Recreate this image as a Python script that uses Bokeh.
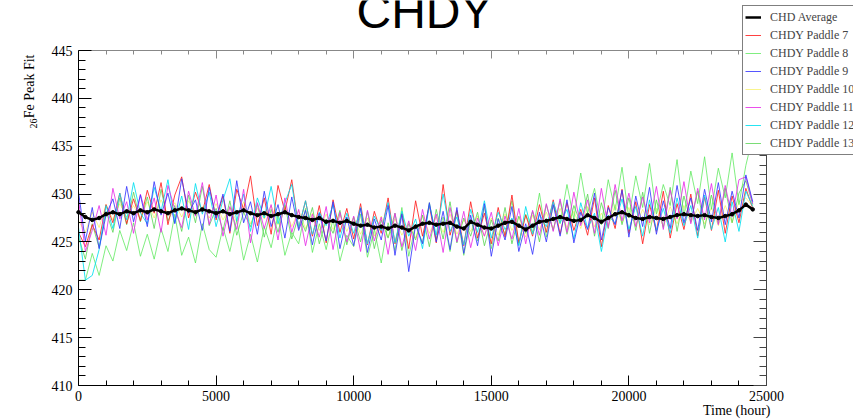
import math
from bokeh.plotting import figure
from bokeh.models import Range1d, FixedTicker, LinearAxis, Label, Legend, LegendItem
from bokeh.embed import file_html
from bokeh.resources import INLINE

# ---------------- data ----------------
hours = list(range(0, 24501, 250))

chd_average = [
    428.1, 427.6, 427.3, 427.5, 427.9, 428.1, 427.9, 428.2, 428.0, 428.3,
    428.1, 428.4, 428.2, 428.0, 428.3, 428.5, 428.3, 428.1, 428.4, 428.2,
    428.0, 428.2, 427.9, 428.1, 428.3, 428.0, 427.8, 428.0, 427.7, 427.9,
    428.1, 427.8, 427.6, 427.5, 427.3, 427.5, 427.1, 427.2, 427.0, 427.2,
    426.9, 426.7, 426.8, 426.5, 426.6, 426.4, 426.7, 426.5, 426.2, 426.6,
    426.9, 427.0, 426.8, 426.9, 427.0, 426.6, 426.4, 427.1, 426.8, 426.5,
    426.4, 426.7, 427.0, 427.1, 426.7, 426.3, 426.7, 427.1, 427.2, 427.4,
    427.6, 427.4, 427.2, 427.3, 427.8, 427.5, 427.1, 427.5, 427.9, 428.1,
    427.8, 427.5, 427.4, 427.6, 427.5, 427.4, 427.6, 427.8, 427.9, 427.8,
    427.7, 427.8, 427.6, 427.5, 427.7, 427.9, 428.3, 428.9, 428.4]

paddle_7 = [
    426.0, 424.5, 426.8, 425.2, 428.9, 427.0, 430.1, 426.9, 429.5, 427.2,
    430.4, 428.0, 431.2, 426.8, 429.9, 431.8, 427.5, 430.2, 428.1, 431.0,
    427.3, 429.8, 425.9, 430.5, 428.4, 431.9, 426.7, 429.6, 425.8, 430.9,
    428.2, 431.5, 426.4, 429.3, 425.6, 428.8, 424.9, 429.4, 426.0, 428.5,
    425.3, 429.0, 424.7, 428.2, 425.9, 429.6, 424.8, 428.0, 424.3, 429.3,
    425.6, 428.8, 424.9, 431.0, 425.7, 428.3, 424.6, 429.2, 425.4, 428.0,
    424.8, 428.6, 425.5, 429.9, 424.9, 427.8, 425.6, 428.9, 426.0, 429.4,
    425.8, 429.1, 426.2, 428.4, 425.7, 429.6, 424.5, 428.8, 426.4, 430.5,
    425.9, 429.2, 424.8, 428.9, 426.1, 430.3, 425.4, 429.0, 426.3, 430.0,
    425.6, 429.7, 426.2, 430.4, 425.9, 429.8, 427.0, 430.6, 428.5]

paddle_8 = [
    421.0, 421.0, 423.8, 421.5, 424.6, 423.0, 426.2, 424.1, 427.0, 423.5,
    425.8, 423.2, 426.4, 424.0, 427.9, 423.6, 425.5, 422.8, 426.9, 424.2,
    423.4, 426.5, 424.0, 427.3, 423.1, 425.8, 422.9, 426.6, 424.4, 427.8,
    423.6, 426.0, 424.8, 428.5, 423.9, 426.9, 424.2, 427.4, 423.0, 425.7,
    424.5, 427.9, 423.4, 426.3, 422.8, 427.0, 424.1, 428.6, 423.5, 426.8,
    424.9, 429.1, 425.3, 427.6, 424.0, 428.2, 423.6, 427.3, 425.1, 428.7,
    424.3, 427.5, 425.8, 429.3, 424.7, 427.9, 426.0, 430.1, 425.5, 428.8,
    426.9, 431.0, 427.4, 432.2, 428.0, 430.6, 426.8, 431.5, 428.3, 432.8,
    427.5, 431.9, 428.6, 433.2, 427.9, 431.0, 428.8, 433.6, 427.7, 432.4,
    429.0, 433.9, 428.4, 432.7, 429.6, 434.3, 428.9, 433.0, 436.0]

paddle_9 = [
    430.2, 425.1, 428.6, 424.3, 427.8, 429.5, 426.4, 430.8, 427.1, 429.9,
    426.6, 431.3, 427.8, 430.1, 426.9, 431.6, 428.0, 429.4, 426.2, 430.7,
    427.5, 430.0, 426.1, 431.4, 427.0, 429.2, 425.8, 430.3, 426.6, 428.9,
    425.4, 429.7, 426.2, 428.3, 424.7, 428.0, 425.1, 429.2, 424.3, 427.6,
    424.6, 428.5, 423.9, 427.4, 425.2, 428.8, 423.6, 427.9, 421.9, 426.8,
    424.8, 429.1, 425.0, 428.2, 424.2, 428.6, 423.8, 427.8, 424.6, 429.0,
    423.5, 427.4, 425.2, 428.7, 424.0, 426.9, 423.7, 428.1, 425.0, 428.9,
    425.6, 429.4, 424.9, 428.1, 426.3, 430.1, 425.2, 428.6, 426.8, 430.4,
    425.5, 429.8, 426.6, 430.7, 425.8, 429.3, 426.4, 430.9, 427.0, 429.6,
    426.2, 430.5, 427.1, 431.2, 426.8, 430.3, 427.5, 432.0, 429.2]

paddle_10 = [
    427.2, 426.0, 428.1, 426.5, 428.9, 427.3, 429.0, 427.6, 428.8, 427.4,
    429.2, 427.5, 429.4, 427.8, 429.1, 427.6, 429.3, 427.9, 428.7, 427.5,
    429.0, 427.3, 428.6, 427.1, 429.2, 426.9, 428.5, 427.4, 428.8, 426.8,
    428.7, 426.6, 428.3, 426.4, 428.0, 426.2, 427.9, 426.3, 427.8, 426.1,
    427.6, 425.8, 427.5, 425.6, 427.7, 425.5, 427.4, 425.7, 427.1, 425.4,
    427.8, 425.9, 427.6, 426.0, 427.9, 425.8, 427.3, 426.1, 427.7, 425.6,
    427.5, 425.7, 427.9, 426.2, 427.6, 425.5, 427.8, 426.3, 428.1, 426.4,
    428.5, 426.5, 428.2, 426.4, 428.7, 426.6, 428.0, 426.7, 428.9, 427.0,
    428.6, 426.7, 428.4, 426.8, 428.5, 426.6, 428.7, 426.9, 428.8, 427.0,
    428.5, 426.9, 428.6, 426.7, 428.8, 427.0, 429.2, 429.6, 428.7]

paddle_11 = [
    429.4, 424.0, 426.2, 428.8, 425.7, 430.6, 427.4, 429.2, 425.9, 430.0,
    427.3, 429.6, 426.0, 430.9, 428.4, 426.5, 430.3, 427.7, 431.2, 426.8,
    429.9, 425.6, 428.7, 426.3, 430.5, 424.9, 429.1, 426.4, 428.9, 425.2,
    429.6, 426.0, 428.4, 424.6, 427.9, 425.5, 428.7, 424.2, 428.1, 425.0,
    427.7, 424.0, 428.3, 425.1, 427.6, 423.7, 428.0, 424.5, 427.2, 424.1,
    428.4, 425.3, 427.9, 423.9, 428.6, 425.0, 428.2, 424.4, 427.5, 425.6,
    428.1, 424.6, 427.7, 425.3, 428.5, 424.8, 428.3, 425.7, 429.0, 426.1,
    429.5, 426.0, 430.2, 426.7, 429.4, 425.9, 430.6, 426.5, 431.0, 427.2,
    430.1, 426.6, 429.7, 427.0, 430.8, 426.3, 430.4, 427.4, 431.3, 426.9,
    430.6, 427.3, 431.1, 426.8, 430.9, 427.6, 431.5, 431.8, 429.0]

paddle_12 = [
    426.5, 421.0, 421.5, 424.2, 428.8, 426.4, 430.1, 427.3, 431.2, 428.0,
    426.9, 430.7, 428.2, 431.5, 427.0, 429.8, 426.3, 431.1, 427.9, 430.2,
    426.6, 429.4, 431.6, 427.2, 430.0, 426.1, 429.6, 427.5, 430.8, 426.9,
    429.1, 431.0, 426.5, 429.3, 425.8, 428.1, 426.7, 428.9, 425.4, 428.0,
    425.9, 428.6, 424.8, 427.7, 426.2, 429.1, 424.9, 428.2, 425.6, 427.4,
    424.3, 428.9, 425.7, 430.0, 426.1, 427.6, 424.7, 428.4, 426.0, 429.3,
    425.4, 428.1, 426.3, 427.5, 424.6, 428.7, 425.8, 427.9, 426.6, 429.2,
    427.0, 428.4, 425.3, 429.1, 426.4, 428.0, 424.0, 427.8, 426.9, 429.5,
    426.3, 428.7, 425.6, 429.4, 426.2, 428.5, 425.9, 429.6, 426.7, 428.8,
    425.4, 429.9, 426.3, 428.6, 425.0, 429.2, 426.1, 430.3, 428.7]

paddle_13 = [
    425.5, 423.2, 426.9, 424.4, 428.2, 426.0, 429.6, 426.8, 430.2, 427.1,
    429.7, 426.4, 430.5, 427.2, 428.8, 426.1, 429.9, 427.0, 430.8, 426.7,
    428.5, 426.2, 429.3, 425.7, 428.1, 426.6, 429.0, 425.5, 428.4, 426.0,
    428.9, 425.3, 427.8, 426.1, 428.6, 424.8, 427.4, 425.9, 428.3, 424.7,
    427.6, 425.0, 428.2, 424.3, 427.3, 425.4, 428.0, 424.1, 426.9, 425.2,
    427.8, 424.5, 428.4, 425.3, 429.2, 424.9, 427.5, 425.6, 428.1, 424.6,
    427.3, 425.1, 428.6, 424.8, 427.7, 425.9, 428.2, 425.0, 428.9, 426.2,
    429.3, 425.8, 428.8, 426.9, 430.0, 425.6, 429.1, 426.4, 430.4, 426.8,
    429.6, 426.2, 430.2, 425.9, 429.4, 426.5, 430.7, 426.1, 429.8, 427.1,
    430.3, 426.4, 429.9, 426.9, 430.6, 427.0, 430.1, 431.4, 428.9]

series_labels = ["CHD Average", "CHDY Paddle 7", "CHDY Paddle 8", "CHDY Paddle 9",
                 "CHDY Paddle 10", "CHDY Paddle 11", "CHDY Paddle 12", "CHDY Paddle 13"]

x_major_ticks = [0, 5000, 10000, 15000, 20000, 25000]
x_minor_ticks = [1000, 2000, 3000, 4000, 6000, 7000, 8000, 9000, 11000, 12000, 13000,
                 14000, 16000, 17000, 18000, 19000, 21000, 22000, 23000, 24000]
y_major_ticks = [410, 415, 420, 425, 430, 435, 440, 445]
y_minor_ticks = [411, 412, 413, 414, 416, 417, 418, 419, 421, 422, 423, 424,
                 426, 427, 428, 429, 431, 432, 433, 434, 436, 437, 438, 439,
                 441, 442, 443, 444]

# ---------------- layout (pixels of the plot box in the 853x419 canvas) ----------------
W, H = 853, 419
X0, X1, Y0, Y1 = 0, 25000, 410, 445
PX_L, PX_R, PY_T, PY_B = 78, 766, 50, 385
xs = (X1 - X0) / (PX_R - PX_L)
ys = (Y1 - Y0) / (PY_B - PY_T)

def dx(px):
    return X0 + (px - PX_L) * xs

def dy(py):
    return Y0 + (PY_B - py) * ys

p = figure(width=W, height=H, output_backend="svg", toolbar_location=None,
           x_range=Range1d(dx(0), dx(W)), y_range=Range1d(dy(H), dy(0)),
           x_axis_location=None, y_axis_location=None, min_border=0)
p.grid.visible = False
p.background_fill_color = "white"
p.border_fill_color = "white"
p.outline_line_color = None

SERIF = "Liberation Serif"

def make_axis(loc, bounds, ticks, minor, tin, minin, labels=True, color="black"):
    ax = LinearAxis(fixed_location=loc, bounds=bounds,
                    ticker=FixedTicker(ticks=ticks, minor_ticks=minor))
    ax.major_tick_in = tin
    ax.major_tick_out = 0
    ax.minor_tick_in = minin
    ax.minor_tick_out = 0
    ax.axis_line_color = color
    ax.major_tick_line_color = color
    ax.minor_tick_line_color = color
    ax.major_label_text_font = SERIF
    ax.major_label_text_font_size = "14px"
    ax.major_label_text_color = "black" if labels else None
    return ax

xb = make_axis(Y0, (X0, X1), x_major_ticks, x_minor_ticks, 10, 5)
xb.major_label_standoff = 5
p.add_layout(xb, "below")
yl = make_axis(X0, (Y0, Y1), y_major_ticks, y_minor_ticks, 13, 7)
yl.major_label_standoff = 6
p.add_layout(yl, "left")
yr = make_axis(X1, (Y0, Y1), y_major_ticks, y_minor_ticks, 13, 7, labels=False, color="#444444")
p.add_layout(yr, "right")
xt = make_axis(Y1, (X0, X1), x_major_ticks, x_minor_ticks, 8, 4, labels=False, color="#888888")
p.add_layout(xt, "above")

# ---------------- lines ----------------
r10 = p.line(hours, paddle_10, line_color="#f2e600", line_width=1, line_alpha=0.45)
r8 = p.line(hours, paddle_8, line_color="#55e855", line_width=1, line_alpha=0.75)
r13 = p.line(hours, paddle_13, line_color="#59d454", line_width=1, line_alpha=0.8)
r7 = p.line(hours, paddle_7, line_color="#ff2020", line_width=1, line_alpha=0.85)
r12 = p.line(hours, paddle_12, line_color="#00dff0", line_width=1, line_alpha=0.85)
r11 = p.line(hours, paddle_11, line_color="#e830e8", line_width=1, line_alpha=0.85)
r9 = p.line(hours, paddle_9, line_color="#3838ff", line_width=1, line_alpha=0.85)
ravg = p.line(hours, chd_average, line_color="black", line_width=2.5)
p.scatter(hours, chd_average, size=3.5, color="black")

legend = Legend(items=[
    LegendItem(label=series_labels[0], renderers=[ravg]),
    LegendItem(label=series_labels[1], renderers=[r7]),
    LegendItem(label=series_labels[2], renderers=[r8]),
    LegendItem(label=series_labels[3], renderers=[r9]),
    LegendItem(label=series_labels[4], renderers=[r10]),
    LegendItem(label=series_labels[5], renderers=[r11]),
    LegendItem(label=series_labels[6], renderers=[r12]),
    LegendItem(label=series_labels[7], renderers=[r13]),
], location=(742, H - 155))
legend.padding = 2
legend.margin = 0
legend.spacing = 0
legend.label_height = 18
legend.glyph_height = 18
legend.glyph_width = 16
legend.label_standoff = 9
legend.label_text_font = SERIF
legend.label_text_font_size = "12px"
legend.border_line_color = "black"
legend.border_line_width = 1
legend.background_fill_color = "white"
legend.background_fill_alpha = 1.0
p.add_layout(legend)

# ---------------- texts ----------------
p.add_layout(Label(x=dx(424), y=dy(11), text="CHDY", text_font="Liberation Sans",
                   text_font_size="48px", text_align="center",
                   text_baseline="alphabetic", text_color="black"))
p.add_layout(Label(x=dx(29), y=dy(54), text="Fe Peak Fit", angle=math.pi / 2,
                   text_align="right", text_baseline="middle", text_font=SERIF,
                   text_font_size="14px", text_color="black"))
p.add_layout(Label(x=dx(33), y=dy(118), text="26", angle=math.pi / 2,
                   text_align="right", text_baseline="middle", text_font=SERIF,
                   text_font_size="10px", text_color="black"))
p.add_layout(Label(x=dx(770), y=dy(410), text="Time (hour)", text_align="right",
                   text_baseline="alphabetic", text_font=SERIF,
                   text_font_size="14px", text_color="black"))

open("out.html", "w").write(file_html(p, INLINE))
